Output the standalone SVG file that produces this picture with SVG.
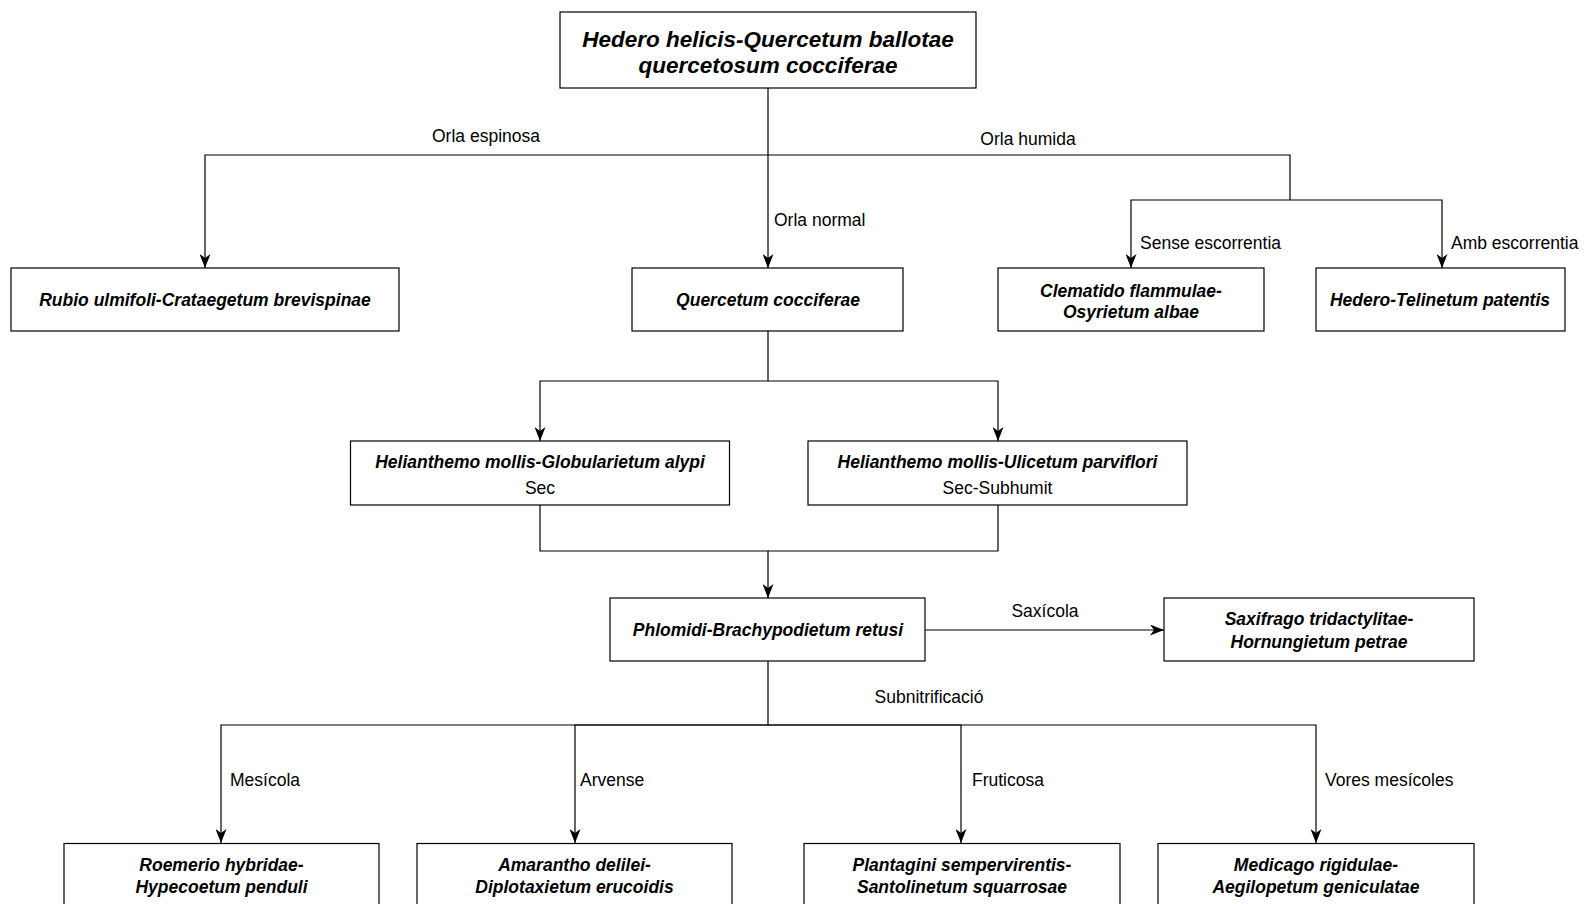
<svg xmlns="http://www.w3.org/2000/svg" width="1584" height="904" viewBox="0 0 1584 904">
<defs>
<marker id="arr" viewBox="0 0 14 11" refX="14" refY="5.5" markerWidth="14" markerHeight="11" orient="auto" markerUnits="userSpaceOnUse">
<path d="M0,0 L14,5.5 L0,11 L4,5.5 Z" fill="#000"/>
</marker>
</defs>
<style>
.box{fill:#fff;stroke:#000;stroke-width:1.2}
.n{font-family:"Liberation Sans",Arial,sans-serif;font-size:17.5px;font-weight:bold;font-style:italic;text-anchor:middle;fill:#000}
.t{font-family:"Liberation Sans",Arial,sans-serif;font-size:22.5px;font-weight:bold;font-style:italic;text-anchor:middle;fill:#000}
.s{font-family:"Liberation Sans",Arial,sans-serif;font-size:17.5px;text-anchor:middle;fill:#000}
.l{font-family:"Liberation Sans",Arial,sans-serif;font-size:17.5px;fill:#000}
.c{fill:none;stroke:#000;stroke-width:1.2}
.a{marker-end:url(#arr)}
</style>
<rect width="1584" height="904" fill="#fff"/>
<g id="connectors">
<path class="c a" d="M768,88 V268"/>
<path class="c a" d="M768,155 H205 V268"/>
<path class="c" d="M768,155 H1290 V200"/>
<path class="c a" d="M1290,200 H1131 V268"/>
<path class="c a" d="M1290,200 H1442 V268"/>
<path class="c a" d="M768,331 V381 H540 V441"/>
<path class="c a" d="M768,381 H998 V441"/>
<path class="c a" d="M540,505 V551 H768 V598"/>
<path class="c" d="M998,505 V551 H768"/>
<path class="c a" d="M925,630 H1164"/>
<path class="c a" d="M768,661 V725 H221 V843"/>
<path class="c a" d="M768,725 H575 V843"/>
<path class="c a" d="M768,725 H961 V843"/>
<path class="c a" d="M768,725 H1316 V843"/>
<text class="s" x="486" y="142">Orla espinosa</text>
<text class="s" x="1028" y="145">Orla humida</text>
<text class="l" x="774" y="226">Orla normal</text>
<text class="l" x="1140" y="249">Sense escorrentia</text>
<text class="l" x="1451" y="249">Amb escorrentia</text>
<text class="s" x="1045" y="617">Saxícola</text>
<text class="s" x="929" y="703">Subnitrificació</text>
<text class="l" x="230" y="786">Mesícola</text>
<text class="l" x="580" y="786">Arvense</text>
<text class="l" x="972" y="786">Fruticosa</text>
<text class="l" x="1325" y="786">Vores mesícoles</text>
</g>
<g id="n-root">
<rect class="box" x="560" y="12" width="416" height="76"/>
<text class="t" x="768" y="46.5">Hedero helicis-Quercetum ballotae</text>
<text class="t" x="768" y="72.5">quercetosum cocciferae</text>
</g>
<g id="n-rubio">
<rect class="box" x="11" y="268" width="388" height="63"/>
<text class="n" x="205" y="306">Rubio ulmifoli-Crataegetum brevispinae</text>
</g>
<g id="n-quercetum">
<rect class="box" x="632" y="268" width="271" height="63"/>
<text class="n" x="768" y="306">Quercetum cocciferae</text>
</g>
<g id="n-clematido">
<rect class="box" x="998" y="268" width="266" height="63"/>
<text class="n" x="1131" y="297">Clematido flammulae-</text>
<text class="n" x="1131" y="318">Osyrietum albae</text>
</g>
<g id="n-hedero">
<rect class="box" x="1316" y="268" width="249" height="63"/>
<text class="n" x="1440" y="306">Hedero-Telinetum patentis</text>
</g>
<g id="n-globularietum">
<rect class="box" x="350.5" y="441" width="379" height="64"/>
<text class="n" x="540" y="468">Helianthemo mollis-Globularietum alypi</text>
<text class="s" x="540" y="494">Sec</text>
</g>
<g id="n-ulicetum">
<rect class="box" x="808" y="441" width="379" height="64"/>
<text class="n" x="997.5" y="468">Helianthemo mollis-Ulicetum parviflori</text>
<text class="s" x="997.5" y="494">Sec-Subhumit</text>
</g>
<g id="n-phlomidi">
<rect class="box" x="610" y="598" width="315" height="63"/>
<text class="n" x="768" y="636">Phlomidi-Brachypodietum retusi</text>
</g>
<g id="n-saxifrago">
<rect class="box" x="1164" y="598" width="310" height="63"/>
<text class="n" x="1319" y="625">Saxifrago tridactylitae-</text>
<text class="n" x="1319" y="648">Hornungietum petrae</text>
</g>
<g id="n-roemerio">
<rect class="box" x="64" y="843.5" width="315" height="63"/>
<text class="n" x="221.5" y="871">Roemerio hybridae-</text>
<text class="n" x="221.5" y="893">Hypecoetum penduli</text>
</g>
<g id="n-amarantho">
<rect class="box" x="417" y="843.5" width="315" height="63"/>
<text class="n" x="574.5" y="871">Amarantho delilei-</text>
<text class="n" x="574.5" y="893">Diplotaxietum erucoidis</text>
</g>
<g id="n-plantagini">
<rect class="box" x="804" y="843.5" width="316" height="63"/>
<text class="n" x="962" y="871">Plantagini sempervirentis-</text>
<text class="n" x="962" y="893">Santolinetum squarrosae</text>
</g>
<g id="n-medicago">
<rect class="box" x="1158" y="843.5" width="316" height="63"/>
<text class="n" x="1316" y="871">Medicago rigidulae-</text>
<text class="n" x="1316" y="893">Aegilopetum geniculatae</text>
</g>
</svg>
